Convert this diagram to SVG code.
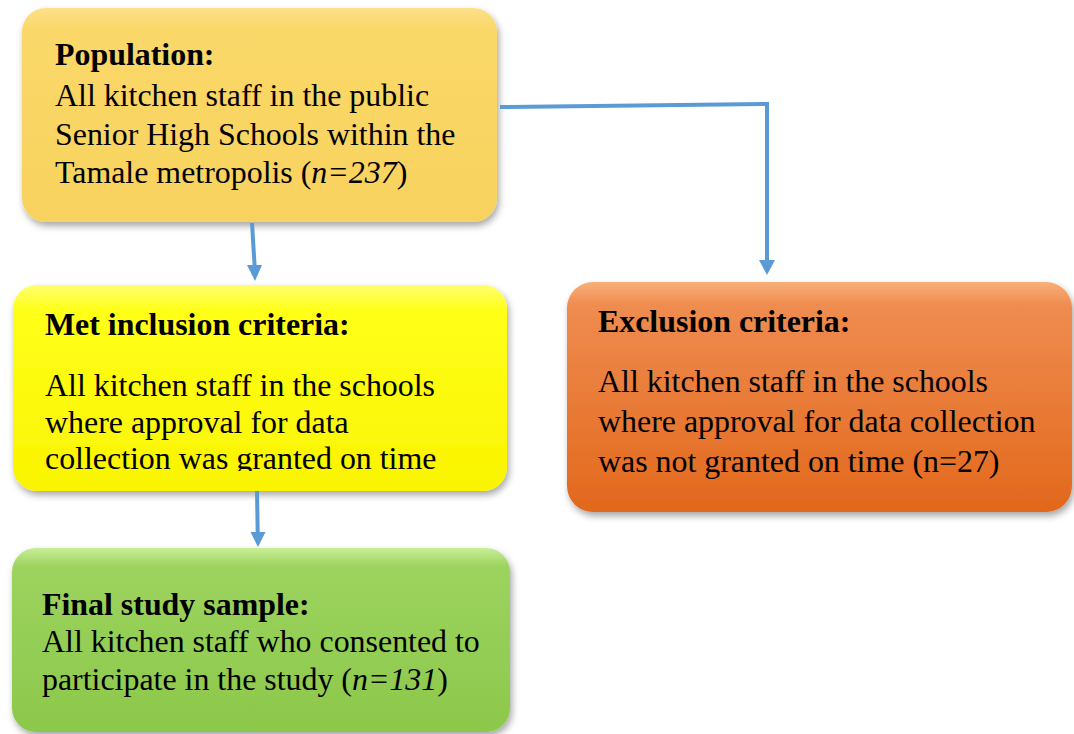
<svg xmlns="http://www.w3.org/2000/svg" width="1074" height="734" viewBox="0 0 1074 734">
<style>
text{font-family:"Liberation Serif","Times New Roman",serif;font-size:31.9px;fill:#000}
.h{font-weight:bold}
.i{font-style:italic}
.conn{fill:none;stroke:#5B9BD5;stroke-width:4}
</style>
<defs>
<filter id="sh" x="-10%" y="-10%" width="125%" height="130%">
<feDropShadow dx="2" dy="4" stdDeviation="3.5" flood-color="#000" flood-opacity="0.35"/>
</filter>
<linearGradient id="gPop" x1="0" y1="0" x2="0" y2="1">
<stop offset="0" stop-color="#FDE08A"/><stop offset="0.1" stop-color="#FAD868"/><stop offset="1" stop-color="#F8D25E"/>
</linearGradient>
<linearGradient id="gInc" x1="0" y1="0" x2="0" y2="1">
<stop offset="0" stop-color="#FFFF70"/><stop offset="0.12" stop-color="#FFFF1A"/><stop offset="1" stop-color="#FAF400"/>
</linearGradient>
<linearGradient id="gExc" x1="0" y1="0" x2="0" y2="1">
<stop offset="0" stop-color="#F8B07A"/><stop offset="0.1" stop-color="#EF8C50"/><stop offset="1" stop-color="#E2681C"/>
</linearGradient>
<linearGradient id="gFin" x1="0" y1="0" x2="0" y2="1">
<stop offset="0" stop-color="#C8EE96"/><stop offset="0.1" stop-color="#9CD35E"/><stop offset="1" stop-color="#8CC84B"/>
</linearGradient>
<clipPath id="clipInc"><rect x="0" y="280" width="520" height="191"/></clipPath>
</defs>

<g id="population">
<rect x="22" y="8" width="475" height="214" rx="24" fill="url(#gPop)" filter="url(#sh)"/>
<text class="h" x="55" y="65">Population:</text>
<text x="55" y="106">All kitchen staff in the public</text>
<text x="55" y="145">Senior High Schools within the</text>
<text x="55" y="183">Tamale metropolis (<tspan class="i">n=237</tspan>)</text>
</g>

<g id="inclusion">
<rect x="13" y="285" width="494" height="206" rx="24" fill="url(#gInc)" filter="url(#sh)"/>
<text class="h" x="45" y="335">Met inclusion criteria:</text>
<text x="45" y="396">All kitchen staff in the schools</text>
<text x="45" y="433">where approval for data</text>
<text x="45" y="469" clip-path="url(#clipInc)">collection was granted on time</text>
</g>

<g id="exclusion">
<rect x="567" y="282" width="505" height="230" rx="26" fill="url(#gExc)" filter="url(#sh)"/>
<text class="h" x="598" y="332">Exclusion criteria:</text>
<text x="598" y="392">All kitchen staff in the schools</text>
<text x="598" y="432">where approval for data collection</text>
<text x="598" y="472">was not granted on time (n=27)</text>
</g>

<g id="final">
<rect x="12" y="548" width="498" height="184" rx="24" fill="url(#gFin)" filter="url(#sh)"/>
<text class="h" x="42" y="615">Final study sample:</text>
<text x="42" y="652">All kitchen staff who consented to</text>
<text x="42" y="690">participate in the study (<tspan class="i">n=131</tspan>)</text>
</g>

<g id="connectors">
<path class="conn" d="M252,223 L254.6,266"/>
<path d="M247,265 L262,265 L255,281 z" fill="#5B9BD5"/>
<path class="conn" d="M500,107 L767,104 L767,261"/>
<path d="M759,260 L775,260 L767,275 z" fill="#5B9BD5"/>
<path class="conn" d="M257,491 L257.7,533"/>
<path d="M250.5,532 L265.5,532 L258,547 z" fill="#5B9BD5"/>
</g>
</svg>
